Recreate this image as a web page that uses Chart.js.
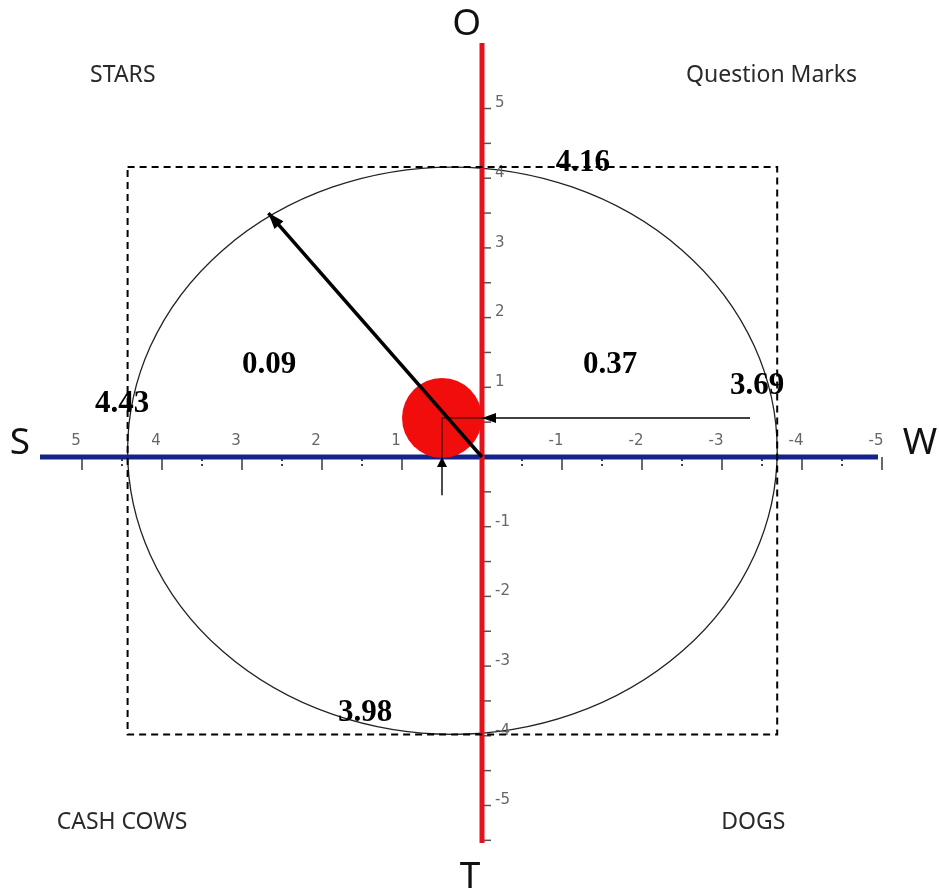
<!DOCTYPE html>
<html>
<head>
<meta charset="utf-8">
<script src="https://cdn.jsdelivr.net/npm/chart.js@4.4.1/dist/chart.umd.min.js"></script>
<style>
  html, body { margin: 0; padding: 0; background: #ffffff; }
  #wrap { width: 939px; height: 894px; }
</style>
</head>
<body>
<div id="wrap"><canvas id="c" width="939" height="894"></canvas></div>
<script>
// ---------- data ----------
const extentS = 4.43;   // strengths (left, positive x)
const extentW = 3.69;   // weaknesses (right, negative x)
const extentO = 4.16;   // opportunities (up)
const extentT = 3.98;   // threats (down)
const diffLabels = ['0.09', '0.37'];
const extentLabels = ['4.43', '3.69', '4.16', '3.98'];
const strategyPoint = [0.5, 0.56];        // position of red circle
const strategyVectorTip = [2.67, 3.5];    // tip of the strategy arrow
const guideFromW = [-3.35, 0.56];         // start of horizontal guide arrow
const guideFromBelow = [0.5, -0.55];      // start of vertical guide arrow
const quadrantNames = ['STARS', 'Question Marks', 'CASH COWS', 'DOGS'];
const axisNames = ['S', 'W', 'O', 'T'];
const xTickValues = [5, 4, 3, 2, 1, -1, -2, -3, -4, -5];
const xMinorTickValues = [4.5, 3.5, 2.5, 1.5, 0.5, -0.5, -1.5, -2.5, -3.5, -4.5];
const yTickValues = [5, 4, 3, 2, 1, -1, -2, -3, -4, -5];
const yMinorTickValues = [4.5, 3.5, 2.5, 1.5, 0.5, -0.5, -1.5, -2.5, -3.5, -4.5, -5.5];

// ---------- layout (positions in data units, styles) ----------
const layout = {
  xAxisFrom: 5.525, xAxisTo: -4.95,
  yAxisFrom: 5.94, yAxisTo: -5.54,
  quadPos: [[4.49, 5.48], [-3.62, 5.48], [4.5, -5.24], [-3.39, -5.24]],
  axisNamePos: [[5.775, 0.2], [-5.475, 0.19], [0.19, 6.21], [0.15, -6.03]],
  extentLabelPos: [[4.5, 0.76], [-3.44, 1.02], [-1.26, 4.22], [1.46, -3.67]],
  diffLabelPos: [[2.66, 1.32], [-1.6, 1.32]]
};

const rectPts = [
  {x: extentS, y: extentO}, {x: -extentW, y: extentO},
  {x: -extentW, y: -extentT}, {x: extentS, y: -extentT}, {x: extentS, y: extentO}
];

const decorPlugin = {
  id: 'decor',
  beforeDatasetsDraw(chart) {
    const {ctx, scales: {x, y}} = chart;
    const ox = x.getPixelForValue(0), oy = y.getPixelForValue(0);
    ctx.save();
    // ellipse inscribed in the rectangle
    const l = x.getPixelForValue(extentS), r = x.getPixelForValue(-extentW);
    const t = y.getPixelForValue(extentO), b = y.getPixelForValue(-extentT);
    ctx.beginPath();
    ctx.ellipse((l + r) / 2, (t + b) / 2, (r - l) / 2, (b - t) / 2, 0, 0, Math.PI * 2);
    ctx.strokeStyle = '#222';
    ctx.lineWidth = 1.3;
    ctx.stroke();

    // horizontal axis ticks
    ctx.strokeStyle = '#444';
    ctx.lineWidth = 1.6;
    xTickValues.forEach(v => {
      const px = x.getPixelForValue(v);
      ctx.beginPath(); ctx.moveTo(px, oy); ctx.lineTo(px, oy + 13); ctx.stroke();
    });
    ctx.setLineDash([2, 3]);
    ctx.lineWidth = 2;
    xMinorTickValues.forEach(v => {
      const px = x.getPixelForValue(v);
      ctx.beginPath(); ctx.moveTo(px, oy + 2); ctx.lineTo(px, oy + 12); ctx.stroke();
    });
    ctx.setLineDash([]);
    // vertical axis ticks
    ctx.lineWidth = 1.5;
    ctx.strokeStyle = '#555';
    yTickValues.concat(yMinorTickValues).forEach(v => {
      const py = y.getPixelForValue(v);
      ctx.beginPath(); ctx.moveTo(ox, py); ctx.lineTo(ox + 9, py); ctx.stroke();
    });

    // axis lines
    ctx.lineWidth = 5;
    ctx.strokeStyle = '#13238a';
    ctx.beginPath();
    ctx.moveTo(x.getPixelForValue(layout.xAxisFrom), oy);
    ctx.lineTo(x.getPixelForValue(layout.xAxisTo), oy);
    ctx.stroke();
    ctx.strokeStyle = '#e5121b';
    ctx.beginPath();
    ctx.moveTo(ox, y.getPixelForValue(layout.yAxisFrom));
    ctx.lineTo(ox, y.getPixelForValue(layout.yAxisTo));
    ctx.stroke();

    // tick labels
    ctx.fillStyle = '#666';
    ctx.font = '15px "DejaVu Sans", Verdana, sans-serif';
    ctx.textAlign = 'center';
    ctx.textBaseline = 'middle';
    xTickValues.forEach(v => {
      ctx.fillText(String(v), x.getPixelForValue(v) - 6, oy - 16);
    });
    ctx.textAlign = 'left';
    yTickValues.forEach(v => {
      ctx.fillText(String(v), ox + 13, y.getPixelForValue(v) - 5);
    });
    ctx.restore();
  },
  afterDatasetsDraw(chart) {
    const {ctx, scales: {x, y}} = chart;
    const head = (fx, fy, tx, ty, len, wid) => {
      const p1x = x.getPixelForValue(fx), p1y = y.getPixelForValue(fy);
      const p2x = x.getPixelForValue(tx), p2y = y.getPixelForValue(ty);
      const a = Math.atan2(p2y - p1y, p2x - p1x);
      ctx.beginPath();
      ctx.moveTo(p2x, p2y);
      ctx.lineTo(p2x - len * Math.cos(a) + wid * Math.sin(a), p2y - len * Math.sin(a) - wid * Math.cos(a));
      ctx.lineTo(p2x - len * Math.cos(a) - wid * Math.sin(a), p2y - len * Math.sin(a) + wid * Math.cos(a));
      ctx.closePath();
      ctx.fill();
    };
    ctx.save();
    ctx.fillStyle = '#000';
    head(0, 0, strategyVectorTip[0], strategyVectorTip[1], 16, 6);
    head(guideFromW[0], guideFromW[1], 0, guideFromW[1], 14, 5);
    head(guideFromBelow[0], guideFromBelow[1], guideFromBelow[0], 0, 10, 5);

    // text annotations
    ctx.textAlign = 'center';
    ctx.textBaseline = 'middle';
    ctx.fillStyle = '#2a2a2a';
    ctx.font = '23px "Noto Sans", "Open Sans", sans-serif';
    quadrantNames.forEach((n, i) => {
      ctx.fillText(n, x.getPixelForValue(layout.quadPos[i][0]), y.getPixelForValue(layout.quadPos[i][1]));
    });
    ctx.fillStyle = '#111';
    ctx.font = '37px "Noto Sans", "Open Sans", sans-serif';
    axisNames.forEach((n, i) => {
      ctx.fillText(n, x.getPixelForValue(layout.axisNamePos[i][0]), y.getPixelForValue(layout.axisNamePos[i][1]));
    });
    ctx.fillStyle = '#000';
    ctx.font = 'bold 31px "Liberation Serif", "Times New Roman", serif';
    extentLabels.forEach((n, i) => {
      ctx.fillText(n, x.getPixelForValue(layout.extentLabelPos[i][0]), y.getPixelForValue(layout.extentLabelPos[i][1]));
    });
    diffLabels.forEach((n, i) => {
      ctx.fillText(n, x.getPixelForValue(layout.diffLabelPos[i][0]), y.getPixelForValue(layout.diffLabelPos[i][1]));
    });
    ctx.restore();
  }
};

new Chart(document.getElementById('c'), {
  type: 'scatter',
  data: {
    datasets: [
      { // strategy vector
        data: [{x: 0, y: 0}, {x: strategyVectorTip[0], y: strategyVectorTip[1]}],
        showLine: true, borderColor: '#000', borderWidth: 3.5, pointRadius: 0, order: 1
      },
      { // horizontal guide arrow
        data: [{x: guideFromW[0], y: guideFromW[1]}, {x: 0, y: guideFromW[1]}],
        showLine: true, borderColor: '#000', borderWidth: 1.4, pointRadius: 0, order: 2
      },
      { // vertical guide arrow
        data: [{x: guideFromBelow[0], y: guideFromBelow[1]}, {x: guideFromBelow[0], y: 0}],
        showLine: true, borderColor: '#000', borderWidth: 1.4, pointRadius: 0, order: 2
      },
      { // connectors to the point
        data: [{x: strategyPoint[0], y: 0}, {x: strategyPoint[0], y: strategyPoint[1]}, {x: 0, y: strategyPoint[1]}],
        showLine: true, borderColor: '#111', borderWidth: 1, pointRadius: 0, order: 3
      },
      { // dashed rectangle
        data: rectPts,
        showLine: true, borderColor: '#000', borderWidth: 2, borderDash: [7, 5], pointRadius: 0, order: 8
      },
      { // strategy position
        data: [{x: strategyPoint[0], y: strategyPoint[1]}],
        showLine: false, backgroundColor: '#f20d0d', borderWidth: 0, pointRadius: 40, order: 10
      }
    ]
  },
  options: {
    responsive: false,
    animation: false,
    devicePixelRatio: 1,
    layout: { padding: 0, autoPadding: false },
    plugins: { legend: { display: false }, tooltip: { enabled: false } },
    events: [],
    scales: {
      x: { type: 'linear', min: -5.7125, max: 6.025, reverse: true, display: false },
      y: { type: 'linear', min: -6.27, max: 6.557, display: false }
    }
  },
  plugins: [decorPlugin]
});
</script>
</body>
</html>
